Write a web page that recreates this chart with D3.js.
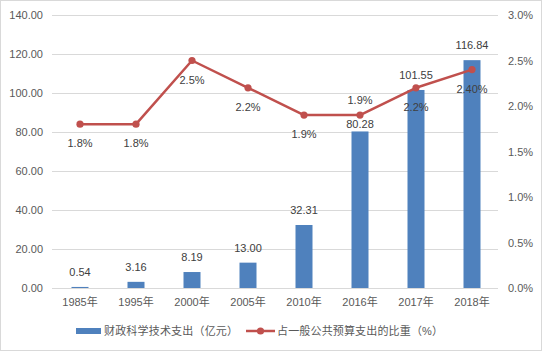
<!DOCTYPE html>
<html>
<head>
<meta charset="utf-8">
<script src="https://cdn.jsdelivr.net/npm/d3@7/dist/d3.min.js"></script>
<style>
  body { margin: 0; background: #fff; }
  text { font-family: "Liberation Sans", "Noto Sans CJK SC", sans-serif; }
</style>
</head>
<body>
<div id="chart"></div>
<script>
// data
const years = ["1985年", "1995年", "2000年", "2005年", "2010年", "2016年", "2017年", "2018年"];
const spending = [0.54, 3.16, 8.19, 13.00, 32.31, 80.28, 101.55, 116.84];
const spendingLabels = ["0.54", "3.16", "8.19", "13.00", "32.31", "80.28", "101.55", "116.84"];
const share = [1.8, 1.8, 2.5, 2.2, 1.9, 1.9, 2.2, 2.4];
const shareLabels = ["1.8%", "1.8%", "2.5%", "2.2%", "1.9%", "1.9%", "2.2%", "2.40%"];
const leftTicks = [0, 20, 40, 60, 80, 100, 120, 140];
const rightTicks = [0, 0.5, 1.0, 1.5, 2.0, 2.5, 3.0];
const legendNames = ["财政科学技术支出（亿元）", "占一般公共预算支出的比重（%）"];

const w = 542, h = 351;
const plotLeft = 52, plotRight = 500, plotTop = 15, plotBottom = 288;
const barColor = "#4f81bd", lineColor = "#c0504d", textColor = "#404040", axisColor = "#595959";

const svg = d3.select("#chart").append("svg")
  .attr("width", w)
  .attr("height", h);

// outer border
svg.append("rect")
  .attr("x", 0.5).attr("y", 0.5)
  .attr("width", w - 1).attr("height", h - 1)
  .attr("fill", "#fff")
  .attr("stroke", "#d9d9d9");

const x = d3.scaleBand().domain(years).range([plotLeft, plotRight]);
const yL = d3.scaleLinear().domain([0, 140]).range([plotBottom, plotTop]);
const yR = d3.scaleLinear().domain([0, 3]).range([plotBottom, plotTop]);

// gridlines
svg.append("g")
  .selectAll("line")
  .data(leftTicks)
  .enter()
  .append("line")
  .attr("x1", plotLeft).attr("x2", plotRight - 2)
  .attr("y1", d => Math.round(yL(d)) + 0.5)
  .attr("y2", d => Math.round(yL(d)) + 0.5)
  .attr("stroke", "#d9d9d9");

// left axis
const yAxisL = d3.axisLeft(yL).tickValues(leftTicks).tickFormat(d3.format(".2f")).tickSize(0).tickPadding(9);
const gL = svg.append("g").attr("transform", "translate(" + plotLeft + ",0)").call(yAxisL);
gL.select(".domain").remove();
gL.selectAll("text").attr("fill", axisColor).style("font-size", "11px");

// right axis
const yAxisR = d3.axisRight(yR).tickValues(rightTicks).tickFormat(d => d.toFixed(1) + "%").tickSize(0).tickPadding(8);
const gR = svg.append("g").attr("transform", "translate(" + plotRight + ",0)").call(yAxisR);
gR.select(".domain").remove();
gR.selectAll("text").attr("fill", axisColor).style("font-size", "11px");

// x axis
const xAxis = d3.axisBottom(x).tickSize(0).tickPadding(10);
const gX = svg.append("g").attr("transform", "translate(0," + plotBottom + ")").call(xAxis);
gX.select(".domain").remove();
gX.selectAll("text").attr("fill", axisColor).style("font-size", "11px");

// bars
const barW = 17;
svg.append("g")
  .selectAll("rect")
  .data(spending)
  .enter()
  .append("rect")
  .attr("x", (d, i) => x(years[i]) + x.bandwidth() / 2 - barW / 2)
  .attr("y", d => yL(d))
  .attr("width", barW)
  .attr("height", d => plotBottom - yL(d))
  .attr("fill", barColor);

// bar labels (80.28 sits a little lower in the original)
const barNudge = { "2016年": 8 };
svg.append("g")
  .selectAll("text")
  .data(spending)
  .enter()
  .append("text")
  .attr("x", (d, i) => x(years[i]) + x.bandwidth() / 2)
  .attr("y", (d, i) => yL(d) - 11 + (barNudge[years[i]] || 0))
  .attr("text-anchor", "middle")
  .attr("fill", textColor)
  .style("font-size", "11px")
  .text((d, i) => spendingLabels[i]);

// line
const line = d3.line()
  .x((d, i) => x(years[i]) + x.bandwidth() / 2)
  .y(d => yR(d));

svg.append("path")
  .datum(share)
  .attr("d", line)
  .attr("fill", "none")
  .attr("stroke", lineColor)
  .attr("stroke-width", 2.5)
  .attr("stroke-linejoin", "round");

svg.append("g")
  .selectAll("circle")
  .data(share)
  .enter()
  .append("circle")
  .attr("cx", (d, i) => x(years[i]) + x.bandwidth() / 2)
  .attr("cy", d => yR(d))
  .attr("r", 3.6)
  .attr("fill", lineColor);

// line labels, below the point except 2016
svg.append("g")
  .selectAll("text")
  .data(share)
  .enter()
  .append("text")
  .attr("x", (d, i) => x(years[i]) + x.bandwidth() / 2)
  .attr("y", (d, i) => years[i] === "2016年" ? yR(d) - 11 : yR(d) + 23)
  .attr("text-anchor", "middle")
  .attr("fill", textColor)
  .style("font-size", "11px")
  .text((d, i) => shareLabels[i]);

// legend
const lg = svg.append("g").attr("transform", "translate(0,331)");
lg.append("rect")
  .attr("x", 76).attr("y", -3)
  .attr("width", 25).attr("height", 6)
  .attr("fill", barColor);
lg.append("text")
  .attr("x", 104).attr("y", 4)
  .attr("fill", axisColor)
  .attr("textLength", 134)
  .attr("lengthAdjust", "spacing")
  .style("font-size", "11px")
  .text(legendNames[0]);
lg.append("line")
  .attr("x1", 246).attr("x2", 275)
  .attr("y1", 0).attr("y2", 0)
  .attr("stroke", lineColor)
  .attr("stroke-width", 2.5);
lg.append("circle")
  .attr("cx", 260.5).attr("cy", 0)
  .attr("r", 3.6)
  .attr("fill", lineColor);
lg.append("text")
  .attr("x", 277).attr("y", 4)
  .attr("fill", axisColor)
  .attr("textLength", 166)
  .attr("lengthAdjust", "spacing")
  .style("font-size", "11px")
  .text(legendNames[1]);
</script>
</body>
</html>
